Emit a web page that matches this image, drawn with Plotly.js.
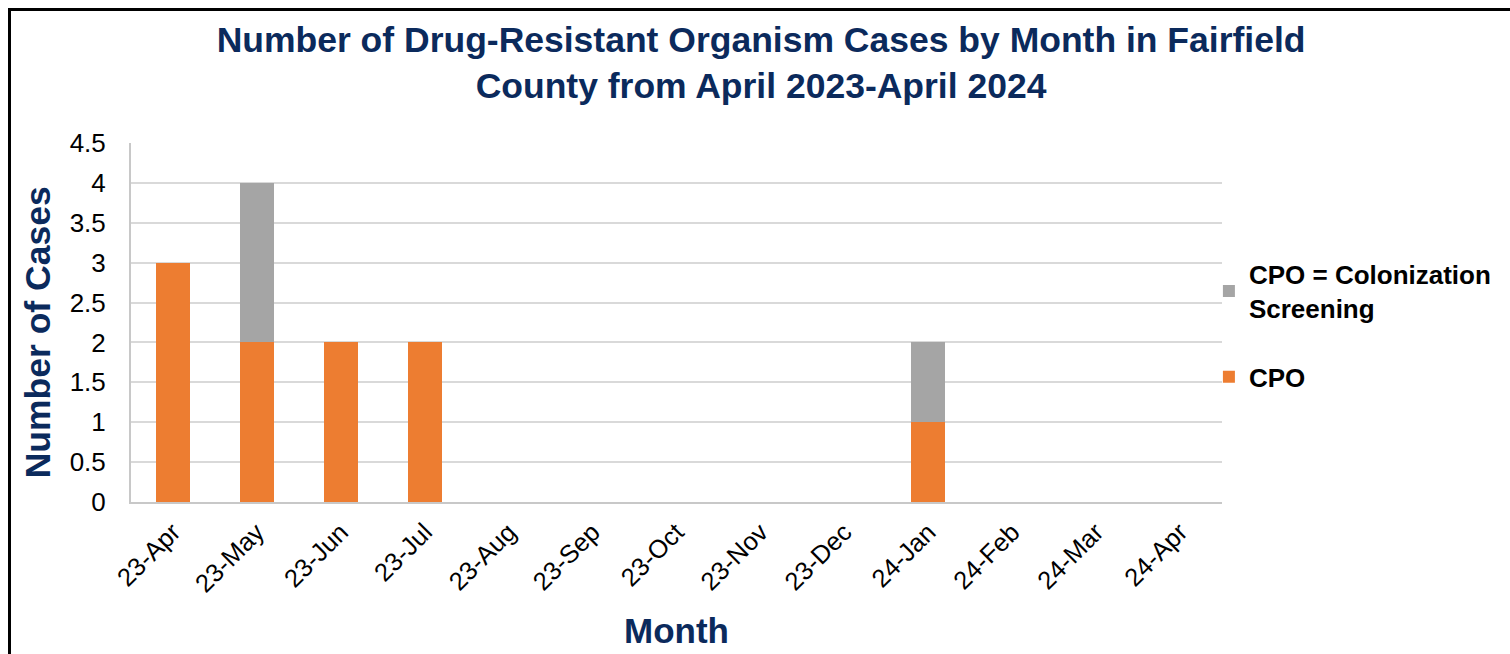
<!DOCTYPE html>
<html>
<head>
<meta charset="utf-8">
<script src="https://cdn.plot.ly/plotly-3.0.1.min.js"></script>
<style>
html,body{margin:0;padding:0;background:#fff;}
#wrap{position:relative;width:1510px;height:654px;overflow:hidden;}
#chart{position:absolute;left:0;top:0;width:1510px;height:654px;}
#frame{position:absolute;left:8px;top:8px;width:1510px;height:700px;border-left:3px solid #000;border-top:3px solid #000;pointer-events:none;}
</style>
</head>
<body>
<div id="wrap"><div id="chart"></div><div id="frame"></div></div>
<script>
const months = ["23-Apr","23-May","23-Jun","23-Jul","23-Aug","23-Sep","23-Oct","23-Nov","23-Dec","24-Jan","24-Feb","24-Mar","24-Apr"];
const cpoCases = [3,2,2,2,0,0,0,0,0,1,0,0,0];
const colonizationCases = [0,2,0,0,0,0,0,0,0,1,0,0,0];
const yTicks = [0,0.5,1,1.5,2,2.5,3,3.5,4,4.5];
const yTickText = ["0","0.5","1","1.5","2","2.5","3","3.5","4","4.5"];

const FONT = "Arial, 'Liberation Sans', sans-serif";
const NAVY = "#0b2a5c";

const traces = [
  {type:"bar", name:"CPO", x:months, y:cpoCases, marker:{color:"#ED7D31"}, legendgroup:"a", legendrank:2, width:0.4, hoverinfo:"x+y"},
  {type:"bar", name:"CPO = Colonization<br>Screening", x:months, y:colonizationCases, marker:{color:"#A5A5A5"}, legendgroup:"b", legendrank:1, width:0.4, hoverinfo:"x+y"}
];

const layout = {
  width:1510, height:654,
  margin:{l:131, r:288, t:143, b:152},
  paper_bgcolor:"#fff", plot_bgcolor:"#fff",
  barmode:"stack",
  font:{family:FONT, color:"#000"},
  title:{text:"<b>Number of Drug-Resistant Organism Cases by Month in Fairfield<br>County from April 2023-April 2024</b>",
    font:{family:FONT, size:35.5, color:NAVY}, x:0.504, xanchor:"center", xref:"container", yref:"container", y:0.921, yanchor:"top"},
  xaxis:{type:"category", categoryorder:"array", categoryarray:months,
    tickangle:-45, tickfont:{size:25.5, color:"#000"}, ticks:"outside", ticklen:3, tickcolor:"rgba(0,0,0,0)",
    showline:true, linecolor:"#c8c8c8", linewidth:2, showgrid:false, automargin:false,
    title:{text:"<b>Month</b>", font:{family:FONT, size:35, color:NAVY}, standoff:22}},
  yaxis:{range:[0,4.5], tickvals:yTicks, ticktext:yTickText, tickfont:{size:26, color:"#000"},
    ticks:"outside", ticklen:18, tickcolor:"rgba(0,0,0,0)",
    showline:true, linecolor:"#c8c8c8", linewidth:2, showgrid:true, gridcolor:"#d9d9d9", gridwidth:2,
    zeroline:false, automargin:false,
    title:{text:"<b>Number of Cases\u00a0\u00a0</b>", font:{family:FONT, size:35.5, color:NAVY}, standoff:8}},
  legend:{x:0.988, xanchor:"left", y:0.7, yanchor:"top",
    traceorder:"grouped", tracegroupgap:32,
    font:{family:FONT, size:26, color:"#000", weight:"bold"}, bgcolor:"rgba(0,0,0,0)", itemwidth:30},
  showlegend:true
};

Plotly.newPlot("chart", traces, layout, {displayModeBar:false, staticPlot:true});
</script>
</body>
</html>
